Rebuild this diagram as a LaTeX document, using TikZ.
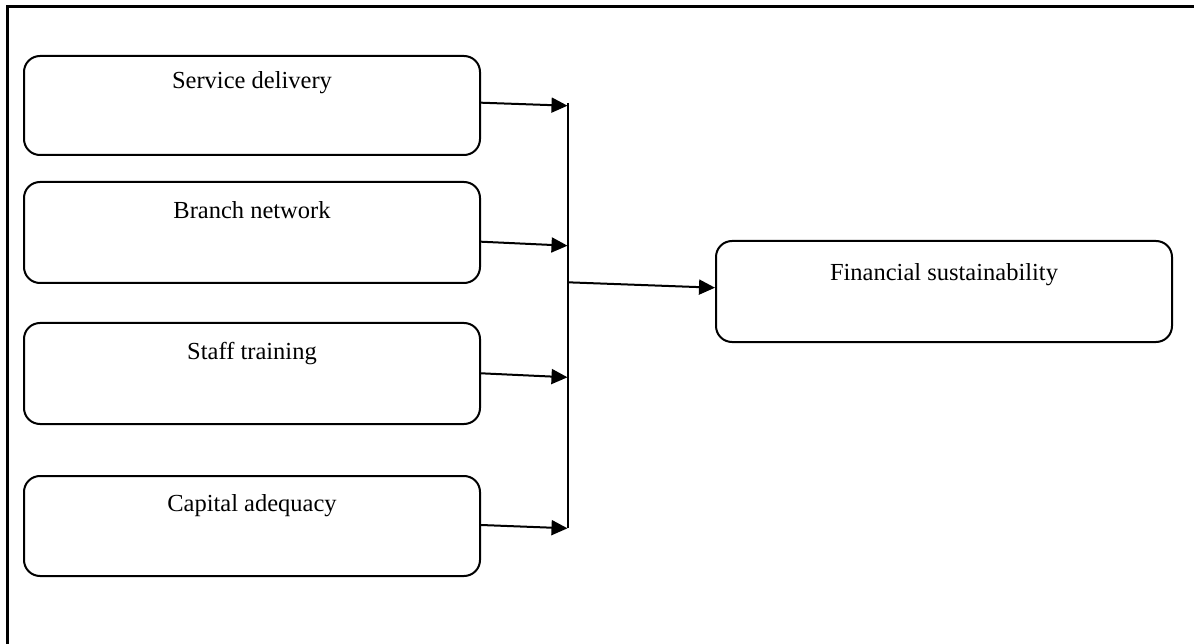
\documentclass[tikz,border=0pt]{standalone}
\usepackage{fontspec}
\setmainfont{Liberation Serif}
\usetikzlibrary{arrows.meta}
\begin{document}
\begin{tikzpicture}[x=1pt,y=-1pt,
  framestyle/.style={line width=2.2pt,line cap=butt,line join=miter},
  boxstyle/.style={draw,line width=2pt,rounded corners=16pt,minimum width=456pt,inner sep=0pt},
  txt/.style={font=\fontsize{24.5}{28}\selectfont,anchor=base,inner sep=0pt},
  conn/.style={line width=2pt},
  arr/.style={line width=2pt,-{Triangle[length=16pt,width=15pt]}}]
\useasboundingbox (0,0) rectangle (1194,644);
% outer frame (only top and left edges visible)
\coordinate (fTR) at (1194,6.5);
\coordinate (fTL) at (7.5,6.5);
\coordinate (fBL) at (7.5,644);
\draw[framestyle] (fTR) -- (fTL) -- (fBL);
% boxes
\node[boxstyle,minimum height=99pt] (sd) at (252,105.5) {};
\node[boxstyle,minimum height=101pt] (bn) at (252,232.5) {};
\node[boxstyle,minimum height=101pt] (st) at (252,373.5) {};
\node[boxstyle,minimum height=100pt] (ca) at (252,526) {};
\node[boxstyle,minimum height=101pt] (fs) at (944,291.5) {};
% texts
\node[txt] (sdt) at (252,89) {Service delivery};
\node[txt] (bnt) at (252,219) {Branch network};
\node[txt] (stt) at (252,359.5) {Staff training};
\node[txt] (cat) at (252,511) {Capital adequacy};
\node[txt] (fst) at (944,281) {Financial sustainability};
% bus
\coordinate (busTop) at (567.5,103);
\coordinate (busBot) at (567.5,528.3);
\coordinate (t1) at (567.5,105.7);
\coordinate (t2) at (567.5,245.7);
\coordinate (t3) at (567.5,377.3);
\coordinate (t4) at (567.5,528.3);
\coordinate (bm) at (567.5,282.3);
\draw[conn] (busTop) -- (busBot);
\draw[arr] ([yshift=2.8pt]sd.east) -- (t1);
\draw[arr] ([yshift=-9.2pt]bn.east) -- (t2);
\draw[arr] ([yshift=0.2pt]st.east) -- (t3);
\draw[arr] ([yshift=1pt]ca.east) -- (t4);
\draw[arr] (bm) -- ([yshift=3.8pt]fs.west);
\end{tikzpicture}
\end{document}
